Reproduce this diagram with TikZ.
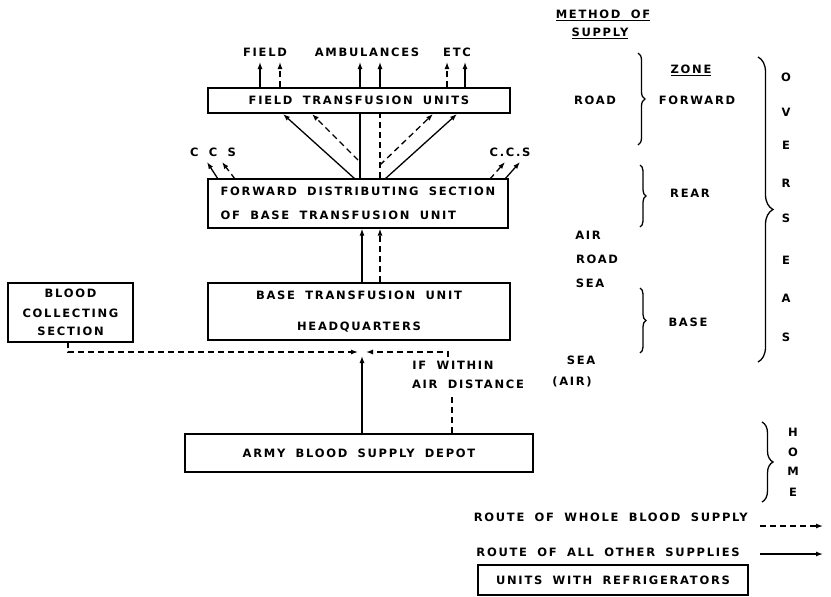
\documentclass[tikz,border=0pt]{standalone}
\usepackage{fontspec}
\usetikzlibrary{arrows.meta,decorations.pathreplacing}
\newfontfamily\labfont{DejaVu Sans Bold}[LetterSpace=15,WordSpace=1.8]
\newcommand\labf{\labfont\fontsize{11.5}{13}\selectfont}
\begin{document}
\begin{tikzpicture}[x=1pt,y=-1pt,
  box/.style={draw, line width=1.4pt, inner sep=0pt, font=\labf},
  lbl/.style={font=\labf, inner sep=0pt},
  sol/.style={line width=1.3pt, -{Latex[length=7pt,width=5pt]}},
  dsh/.style={line width=1.3pt, dash pattern=on 6pt off 4pt, -{Latex[length=7pt,width=5pt]}},
  plainl/.style={line width=1.3pt},
  plaind/.style={line width=1.3pt, dash pattern=on 6pt off 4pt},
  brc/.style={line width=1.3pt, decorate, decoration={brace, amplitude=#1}},
]
\useasboundingbox (0,0) rectangle (831,597);

% boxes
\node[box, minimum width=302, minimum height=25] (ftu) at (359,100.5) {FIELD TRANSFUSION UNITS};
\node[box, minimum width=300, minimum height=49, align=left] (fds) at (358,203.5) {FORWARD DISTRIBUTING SECTION\\[11pt]OF BASE TRANSFUSION UNIT};
\node[box, minimum width=302, minimum height=57, align=center] (btu) at (359,311.5) {BASE TRANSFUSION UNIT\\[18pt]HEADQUARTERS};
\node[box, minimum width=125, minimum height=59, align=center] (bcs) at (70.5,312.5) {BLOOD\\[7pt]COLLECTING\\[5pt]SECTION};
\node[box, minimum width=348, minimum height=38] (abs) at (359,453) {ARMY BLOOD SUPPLY DEPOT};
\node[box, minimum width=270, minimum height=30] (leg) at (613,580) {UNITS WITH REFRIGERATORS};

% top labels
\node[lbl] (tfield) at (265,52) {FIELD};
\node[lbl] (tamb) at (367,52) {AMBULANCES};
\node[lbl] (tetc) at (457,52) {ETC};
\coordinate (t1) at (260,62);
\coordinate (t2) at (280,62);
\coordinate (t3) at (360,62);
\coordinate (t4) at (380,62);
\coordinate (t5) at (447,62);
\coordinate (t6) at (465,62);
\draw[sol] (ftu.north -| t1) -- (t1);
\draw[dsh] (ftu.north -| t2) -- (t2);
\draw[sol] (ftu.north -| t3) -- (t3);
\draw[sol] (ftu.north -| t4) -- (t4);
\draw[dsh] (ftu.north -| t5) -- (t5);
\draw[sol] (ftu.north -| t6) -- (t6);

% FDS -> FTU
\draw[plainl] (fds.north -| t3) -- (ftu.south -| t3);
\draw[plaind] (fds.north -| t4) -- (ftu.south -| t4);
\coordinate (s1) at (355,179);
\coordinate (e1) at (283,114);
\coordinate (s2) at (358,160);
\coordinate (e2) at (312,114);
\coordinate (s3) at (380,165);
\coordinate (e3) at (433,114);
\coordinate (s4) at (385,179);
\coordinate (e4) at (457,114);
\draw[sol] (s1) -- (e1);
\draw[dsh] (s2) -- (e2);
\draw[dsh] (s3) -- (e3);
\draw[sol] (s4) -- (e4);

% CCS
\node[lbl] (ccsl) at (213,152) {C C S};
\node[lbl] (ccsr) at (510,152) {C.C.S};
\coordinate (c1s) at (218,179); \coordinate (c1e) at (207,162);
\coordinate (c2s) at (235,179); \coordinate (c2e) at (222,162);
\coordinate (c3s) at (490,179); \coordinate (c3e) at (505,162);
\coordinate (c4s) at (505,179); \coordinate (c4e) at (520,162);
\draw[sol] (c1s) -- (c1e);
\draw[dsh] (c2s) -- (c2e);
\draw[dsh] (c3s) -- (c3e);
\draw[sol] (c4s) -- (c4e);

% BTU -> FDS
\coordinate (u1) at (362,0);
\coordinate (u2) at (380,0);
\draw[sol] (btu.north -| u1) -- (fds.south -| u1);
\draw[dsh] (btu.north -| u2) -- (fds.south -| u2);

% lower junction
\coordinate (ml) at (358,352);
\coordinate (mr) at (366,352);
\coordinate (mu) at (362,356);
\coordinate (bl) at (68,342);
\draw[dsh] (bl) |- (ml);
\draw[sol] (abs.north -| mu) -- (mu);
\coordinate (dr) at (448,352);
\coordinate (dt) at (448,357);
\draw[dsh] (dt) -- (dr) -- (mr);
\coordinate (db) at (452,396);
\draw[plaind] (abs.north -| db) -- (db);
\node[lbl] (ifw) at (453,365) {IF WITHIN};
\node[lbl] (aird) at (468,384) {AIR DISTANCE};

% right side
\node[lbl] (meth) at (603,15) {\underline{METHOD OF}};
\node[lbl] (supp) at (600,33) {\underline{SUPPLY}};
\node[lbl] (zone) at (691,70) {\underline{ZONE}};
\node[lbl] (road1) at (595,100) {ROAD};
\node[lbl] (fwd) at (697,100) {FORWARD};
\node[lbl] (rear) at (690,193) {REAR};
\node[lbl] (air1) at (588,235) {AIR};
\node[lbl] (road2) at (597,259) {ROAD};
\node[lbl] (sea1) at (590,283) {SEA};
\node[lbl] (base) at (688,322) {BASE};
\node[lbl] (sea2) at (581,360) {SEA};
\node[lbl] (air2) at (572,382) {(AIR)};

\draw[brc=7pt] (638,53) -- (638,145);
\draw[brc=6pt] (640,165) -- (640,227);
\draw[brc=6pt] (640,288) -- (640,353);
\draw[brc=15pt] (758,57) -- (758,362);
\draw[brc=11pt] (762,422) -- (762,502);

\foreach \ch/\yy [count=\i] in {O/77,V/112,E/145,R/183,S/218,E/260,A/298,S/337}
  \node[lbl] (ov\i) at (786,\yy) {\ch};
\foreach \ch/\yy [count=\i] in {H/432,O/452,M/471,E/492}
  \node[lbl] (hm\i) at (793,\yy) {\ch};

% legend
\node[lbl, anchor=east] (lg1) at (748,517) {ROUTE OF WHOLE BLOOD SUPPLY};
\node[lbl, anchor=east] (lg2) at (740,552) {ROUTE OF ALL OTHER SUPPLIES};
\coordinate (la1) at (760,526); \coordinate (lb1) at (823,526);
\coordinate (la2) at (760,554); \coordinate (lb2) at (823,554);
\draw[dsh] (la1) -- (lb1);
\draw[sol] (la2) -- (lb2);
\end{tikzpicture}
\end{document}
